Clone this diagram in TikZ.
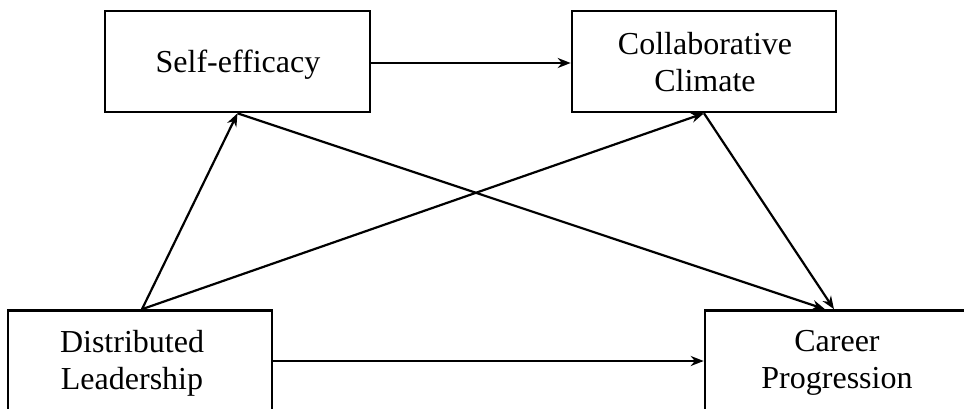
\documentclass[tikz,border=0pt]{standalone}
\usepackage{fontspec}
\setmainfont{Liberation Serif}
\usetikzlibrary{arrows.meta,calc}
\tikzset{
  box/.style={draw=black, line width=2.6pt, minimum height=101pt, inner sep=0pt, fill=none},
  lbl/.style={align=center, font=\fontsize{32}{37}\selectfont, inner sep=0pt},
  conn/.style={line width=2.2pt, -{Stealth[length=13pt,width=10pt]}}
}
\begin{document}
\begin{tikzpicture}[x=1pt,y=1pt]
\useasboundingbox (0,0) rectangle (964,-409);
\clip (0,0) rectangle (964,-409);
\fill[white] (0,0) rectangle (964,-409);
% boxes
\node[box, minimum width=265pt] (se) at (237.5,-61.5) {};
\node[box, minimum width=264pt] (cc) at (704,-61.5) {};
\node[box, minimum width=264pt] (dl) at (140,-361) {};
\node[box, minimum width=280pt] (cp) at (845,-361) {};
% labels
\node[lbl] (set) at (238,-65) {Self-efficacy};
\node[lbl] (cct) at (705,-62) {Collaborative\\Climate};
\node[lbl] (dlt) at (132,-363) {Distributed\\Leadership};
\node[lbl] (cpt) at (837,-363) {Career\\Progression};
% connectors
\draw[conn] ($(se.east)+(0,-1.5)$) -- ($(cc.west)+(0,-1.5)$);
\draw[conn] ($(dl.north)+(2,0)$) -- (se.south);
\draw[conn] ($(dl.north)+(2,0)$) -- (cc.south);
\draw[conn] (se.south) -- ($(cp.north)+(-20,0)$);
\draw[conn] (cc.south) -- ($(cp.north)+(-11,0)$);
\draw[conn] (dl.east) -- (cp.west);
\end{tikzpicture}
\end{document}
